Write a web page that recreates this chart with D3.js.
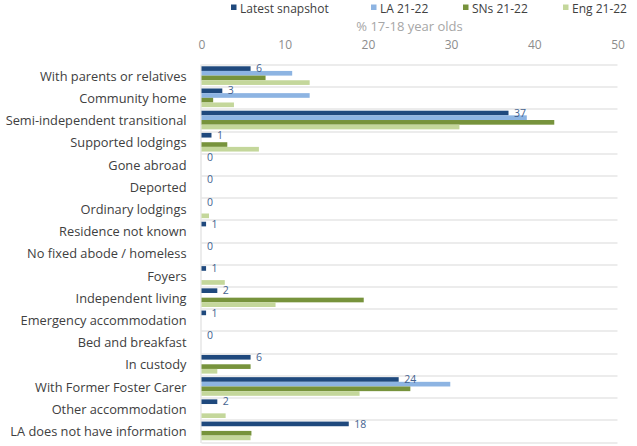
<!DOCTYPE html>
<html>
<head>
<meta charset="utf-8">
<script src="https://cdn.jsdelivr.net/npm/d3@7"></script>
<style>
	body { margin: 0; background: #fff; }
	svg text { font-family: "Open Sans", "Noto Sans", sans-serif; }
</style>
</head>
<body>
<svg id="bar_chart_svg" width="637" height="446"></svg>
<script>
// categories, top to bottom
var categories = [
	"With parents or relatives",
	"Community home",
	"Semi-independent transitional",
	"Supported lodgings",
	"Gone abroad",
	"Deported",
	"Ordinary lodgings",
	"Residence not known",
	"No fixed abode / homeless",
	"Foyers",
	"Independent living",
	"Emergency accommodation",
	"Bed and breakfast",
	"In custody",
	"With Former Foster Carer",
	"Other accommodation",
	"LA does not have information"
];

var series_names = ["Latest snapshot", "LA 21-22", "SNs 21-22", "Eng 21-22"];

var latest_snapshot = [5.9, 2.5, 36.9, 1.2, 0, 0, 0, 0.55, 0, 0.55, 1.9, 0.55, 0, 5.9, 23.7, 1.9, 17.7];
var la_21_22        = [10.9, 13.0, 39.1, 0, 0, 0, 0, 0, 0, 0, 0, 0, 0, 0, 29.9, 0, 0];
var sns_21_22       = [7.7, 1.4, 42.4, 3.1, 0, 0, 0, 0, 0, 0, 19.5, 0, 0, 5.9, 25.1, 0, 6.0];
var eng_21_22       = [13.0, 3.9, 31.0, 6.9, 0, 0, 0.9, 0, 0, 2.8, 8.9, 0, 0, 1.9, 19.0, 2.9, 5.9];

var x_ticks = [0, 10, 20, 30, 40, 50];
var axis_title = "% 17-18 year olds";

var colours = ["#1F497D", "#8DB4E2", "#77933C", "#C4D79B"];

var all_series = [latest_snapshot, la_21_22, sns_21_22, eng_21_22];

var rows = categories.map(function(c, i) {
	return {
		category: c,
		values: all_series.map(function(s, j) { return {key: series_names[j], value: s[i]}; })
	};
});

var svg = d3.select("#bar_chart_svg"),
	margin = {top: 64.5, right: 19.5, bottom: 4, left: 201.5},
	width = svg.attr("width") - margin.left - margin.right,
	height = svg.attr("height") - margin.top - margin.bottom,
	g = svg.append("g").attr("transform", "translate(" + margin.left + "," + margin.top + ")");

var x = d3.scaleLinear()
	.domain([0, 50])
	.range([0, width]);

var y = d3.scaleBand()
	.domain(categories)
	.range([0, height])
	.paddingInner(0.16)
	.paddingOuter(0.08);

var y1 = d3.scaleBand()
	.domain(series_names)
	.range([0, y.bandwidth()]);

// horizontal separators between categories
var step = y.step();
var separators = d3.range(categories.length + 1).map(function(i) {
	return y(categories[0]) - y.paddingInner() * step / 2 + i * step;
});

g.append("g")
	.attr("class", "grid")
	.selectAll("line")
	.data(separators)
	.enter().append("line")
	.attr("x1", 0)
	.attr("x2", width)
	.attr("y1", function(d) { return Math.round(d) + 0.5; })
	.attr("y2", function(d) { return Math.round(d) + 0.5; })
	.attr("stroke", "#D9D9D9")
	.attr("stroke-width", 1);

// x axis on top, ticks only (no line)
var xAxis = g.append("g")
	.attr("class", "axis axis--x")
	.attr("transform", "translate(0,-20)")
	.call(d3.axisTop(x).tickValues(x_ticks).tickSize(0).tickPadding(0));
xAxis.select(".domain").remove();
xAxis.selectAll("text")
	.attr("dy", "0.35em")
	.style("font-size", "12px")
	.style("font-family", "'Open Sans', sans-serif")
	.style("fill", "#8C8C8C");

svg.append("text")
	.attr("x", margin.left + width / 2)
	.attr("y", 26)
	.attr("dy", "0.35em")
	.style("text-anchor", "middle")
	.style("font-size", "13px")
	.style("fill", "#A6A6A6")
	.text(axis_title);

// category axis
var yAxis = g.append("g")
	.attr("class", "axis axis--y")
	.call(d3.axisLeft(y).tickSize(0).tickPadding(15));
yAxis.select(".domain").remove();
yAxis.selectAll("text")
	.attr("dy", "0.4em")
	.style("font-size", "12.8px")
	.style("font-family", "'Open Sans', sans-serif")
	.style("fill", "#404040");

g.append("line")
	.attr("x1", -0.5)
	.attr("x2", -0.5)
	.attr("y1", separators[0])
	.attr("y2", separators[separators.length - 1] + 1)
	.attr("stroke", "#D9D9D9");

// bars
var groups = g.append("g")
	.attr("class", "bars")
	.selectAll("g")
	.data(rows)
	.enter().append("g")
	.attr("transform", function(d) { return "translate(0," + y(d.category) + ")"; });

groups.selectAll("rect")
	.data(function(d) { return d.values; })
	.enter().append("rect")
	.attr("x", 0)
	.attr("y", function(d) { return y1(d.key); })
	.attr("height", y1.bandwidth())
	.attr("width", function(d) { return x(d.value); })
	.attr("fill", function(d, i) { return colours[i]; });

// data labels for the latest snapshot
groups.append("text")
	.attr("x", function(d) { return x(d.values[0].value) + 5.5; })
	.attr("y", y1(series_names[0]) + y1.bandwidth() / 2)
	.attr("dy", "0.35em")
	.style("font-size", "10.5px")
	.style("fill", "#44628F")
	.text(function(d) { return Math.round(d.values[0].value); });

// legend
var legend_x = [231, 371, 463, 563];
var legend = svg.append("g")
	.attr("class", "legend")
	.selectAll("g")
	.data(series_names)
	.enter().append("g")
	.attr("transform", function(d, i) { return "translate(" + legend_x[i] + ",0)"; });

legend.append("rect")
	.attr("y", 4.5)
	.attr("width", 5.5)
	.attr("height", 5.5)
	.attr("fill", function(d, i) { return colours[i]; });

legend.append("text")
	.attr("x", 9)
	.attr("y", 12.9)
	.style("font-size", "12px")
	.style("fill", "#404040")
	.text(function(d) { return d; });
</script>
</body>
</html>
